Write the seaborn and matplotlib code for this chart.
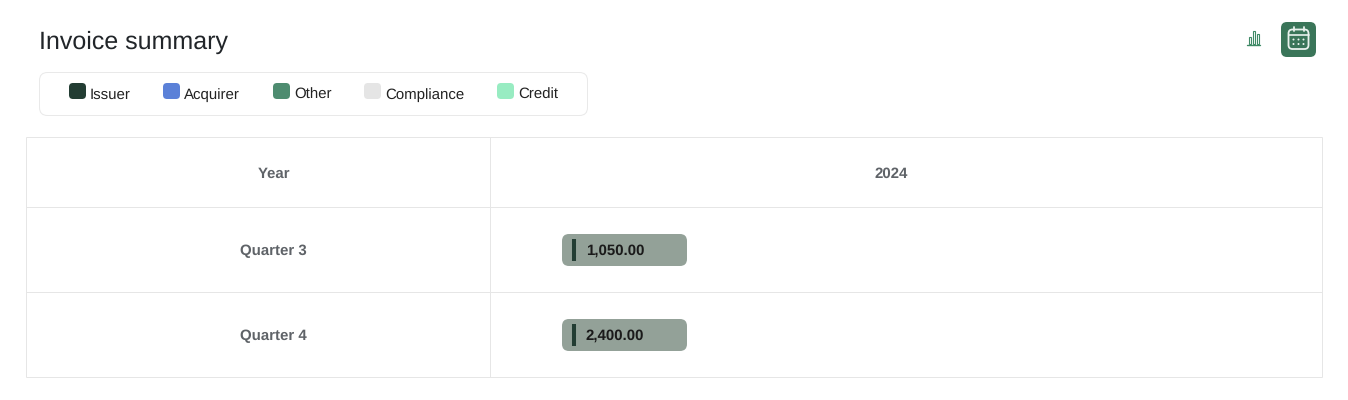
import matplotlib
matplotlib.use('Agg')
import matplotlib.pyplot as plt
import numpy as np
import pandas as pd
import seaborn as sns
from matplotlib.patches import Circle, FancyBboxPatch, Rectangle

TITLE = 'Invoice summary'
legend_names = ['Issuer', 'Acquirer', 'Other', 'Compliance', 'Credit']
legend_colors = ['#233d33', '#5b81d8', '#4e8c70', '#e5e5e5', '#98ecc2']
legend_swatch_x = [69, 163, 273, 364, 497]
legend_text_x = [90, 184, 294, 385, 518]

year_header = 'Year'
year_value = '2024'
quarters = ['Quarter 3', 'Quarter 4']
amounts = [1050.00, 2400.00]

GREEN = '#3a7559'
GRID = '#e6e6e6'
GREY_TEXT = '#5f6368'
PX = 0.72  # one pixel in points at dpi 100

sns.set_theme(style='white')
plt.rcParams['font.family'] = ['Liberation Sans', 'DejaVu Sans']
plt.rcParams['text.hinting'] = 'no_hinting'
plt.rcParams['text.hinting_factor'] = 1


def rounded(ax, x, y, w, h, r, fc, ec='none', lw=0, z=2):
    ax.add_patch(FancyBboxPatch((x + r, y + r), w - 2 * r, h - 2 * r,
                                boxstyle=f'round,pad={r},rounding_size={r}',
                                fc=fc, ec=ec, lw=lw, zorder=z))


def draw_legend(ax):
    rounded(ax, 39.5, 72.5, 548, 43, 8, 'white', ec='#e9e9e9', lw=PX)
    for name, color, sx, tx in zip(legend_names, legend_colors, legend_swatch_x, legend_text_x):
        rounded(ax, sx, 83, 17, 16, 4, color, z=3)
        ax.text(tx, 98.5, name, fontsize=10.9, color='#222222', va='baseline', ha='left', zorder=3)


def draw_table(ax):
    left, mid, right = 25.6, 489.6, 1321.6
    row_y = [136.6, 206.6, 291.6, 376.6]
    for y in row_y:
        ax.plot([left, right], [y, y], color=GRID, lw=PX, zorder=1, solid_capstyle='butt')
    for x in [left, mid, right]:
        ax.plot([x, x], [row_y[0], row_y[-1]], color=GRID, lw=PX, zorder=1, solid_capstyle='butt')

    ax.text(274, 177.5, year_header, fontsize=10.8, fontweight='bold', color=GREY_TEXT, ha='center', va='baseline')
    ax.text(891, 177.5, year_value, fontsize=10.8, fontweight='bold', color=GREY_TEXT, ha='center', va='baseline')

    centers = [250, 335]
    for quarter, amount, cy in zip(quarters, amounts, centers):
        ax.text(273.5, cy + 5, quarter, fontsize=10.8, fontweight='bold', color=GREY_TEXT, ha='center', va='baseline')
        rounded(ax, 562, cy - 16, 125, 32, 7, '#93a198')
        ax.text(585.7, cy + 5, f'{amount:,.2f}', fontsize=10.8, fontweight='bold', color='#1a1a1a', ha='left', va='baseline', zorder=4)

    # dark tick on each pill goes through seaborn
    df = pd.DataFrame({'x': [574] * len(quarters), 'y': centers})
    sns.scatterplot(data=df, x='x', y='y', marker='|', s=230, linewidth=2.9, color='#233d33', ax=ax, zorder=4, legend=False)


def draw_icons(ax):
    # small bar chart icon
    for x, top in zip([1248.5, 1252.5, 1256.5], [37, 31, 34]):
        ax.add_patch(Rectangle((x, top), 2.6, 44 - top, fc='white', ec='#3f8a66', lw=0.8, zorder=3))
    ax.plot([1247, 1260], [44.5, 44.5], color='#3f8a66', lw=1.0, zorder=3)

    # calendar button
    rounded(ax, 1281, 22, 35, 35, 6, GREEN)
    rounded(ax, 1288.5, 29.5, 20, 19.5, 4, GREEN, ec='#e9f1ed', lw=1.3, z=3)
    ax.plot([1288.5, 1308.5], [34.5, 34.5], color='#e9f1ed', lw=1.2, zorder=4)
    for x in [1293.5, 1303.5]:
        ax.plot([x, x], [27, 31], color='#e9f1ed', lw=1.3, zorder=4)
    for x in [1293.5, 1298.5, 1303.5]:
        for y in [39.5, 44]:
            ax.add_patch(Circle((x, y), 1.0, fc='#e9f1ed', ec='none', zorder=4))


def main():
    fig = plt.figure(figsize=(13.48, 4), dpi=100, facecolor='white')
    ax = fig.add_axes([0, 0, 1, 1])
    ax.set_xlim(0, 1348)
    ax.set_ylim(400, 0)

    ax.text(39, 49, TITLE, fontsize=18, color='#212529', ha='left', va='baseline')
    draw_legend(ax)
    draw_table(ax)
    draw_icons(ax)

    ax.set_xlim(0, 1348)
    ax.set_ylim(400, 0)
    ax.axis('off')
    fig.savefig('out.png', dpi=100)


if __name__ == '__main__':
    main()
